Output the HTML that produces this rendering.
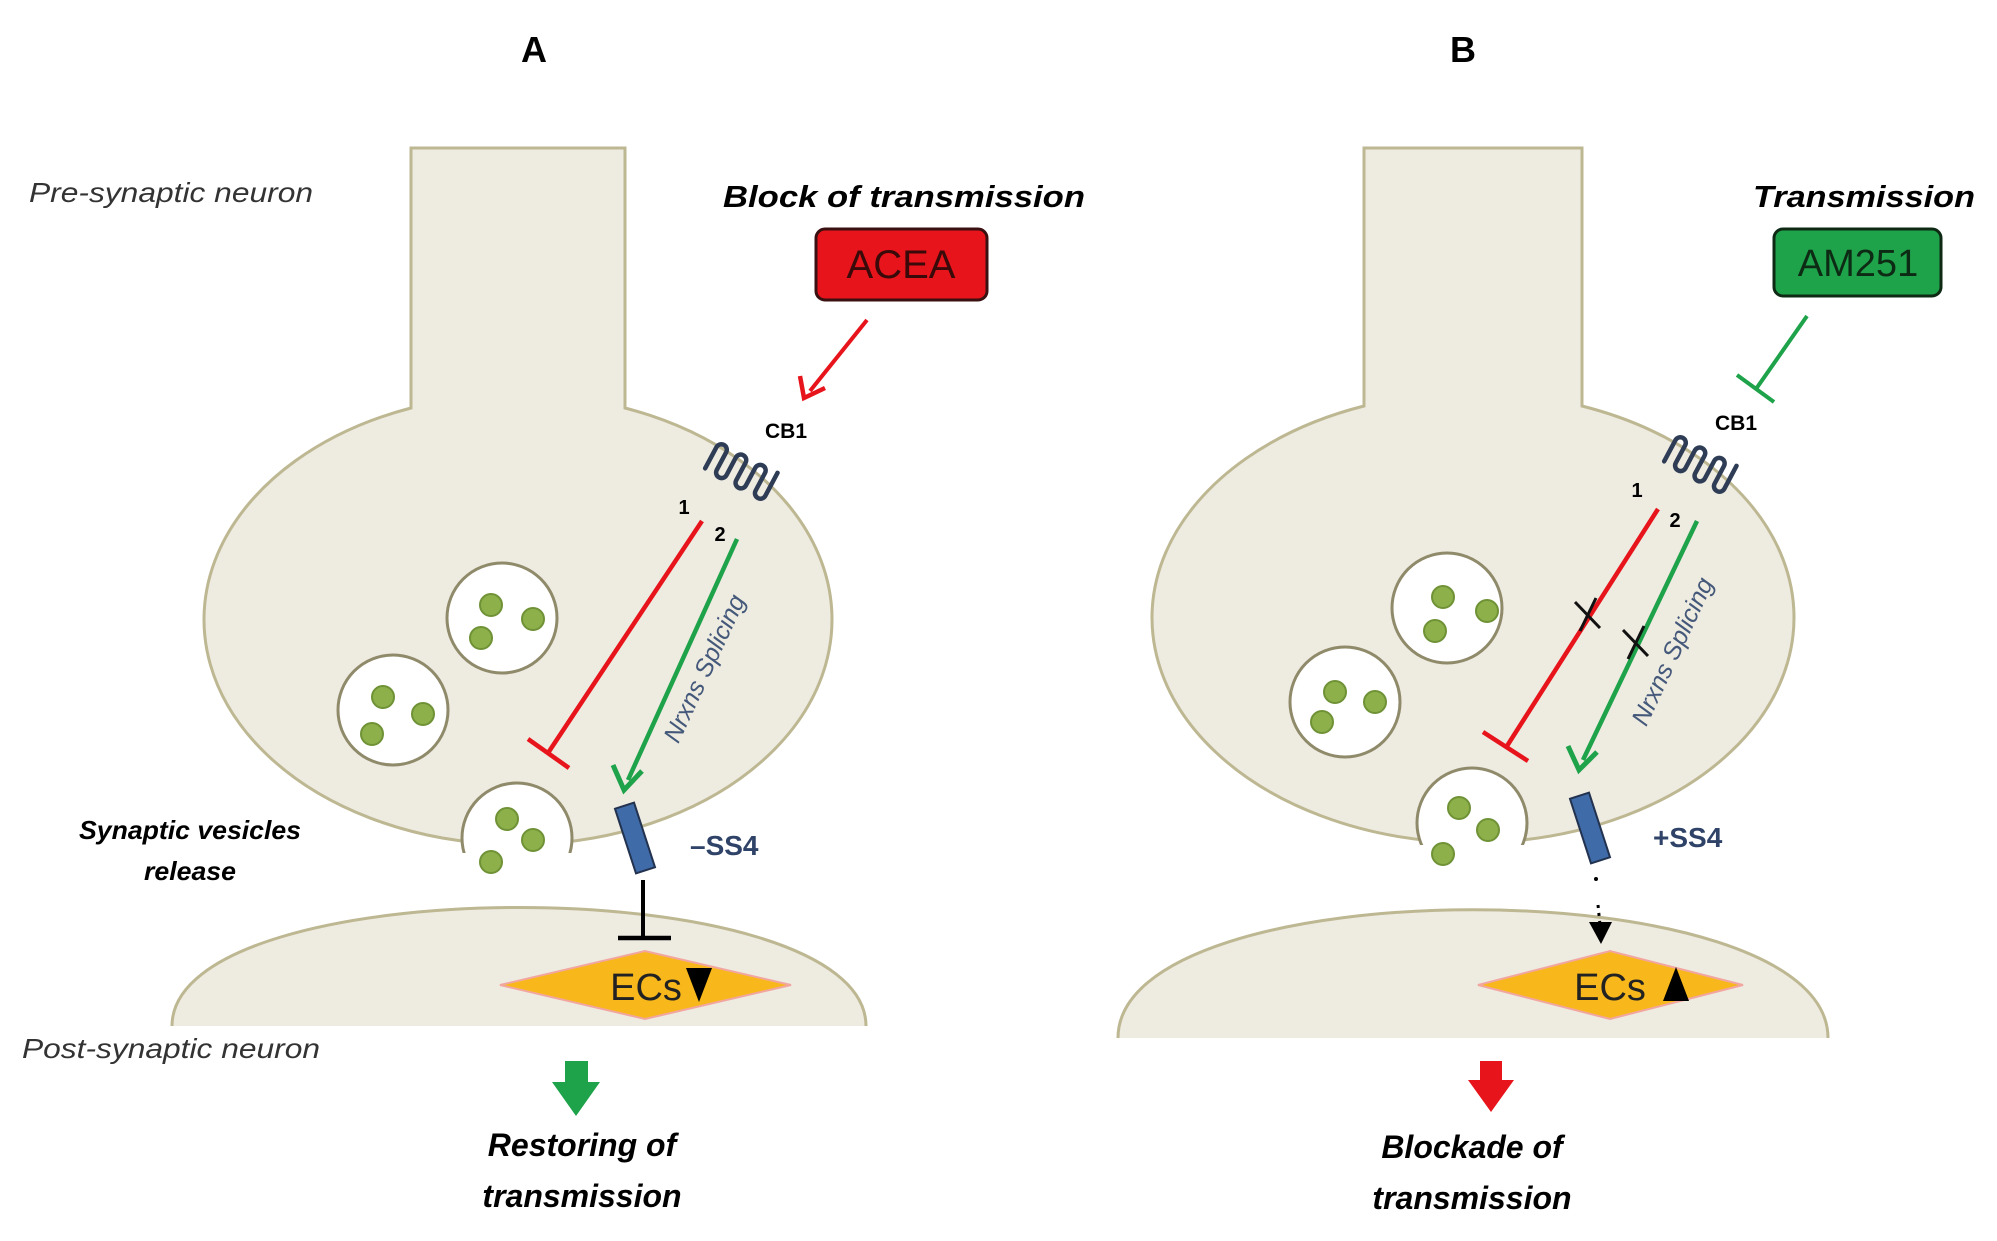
<!DOCTYPE html>
<html><head><meta charset="utf-8"><style>
html,body{margin:0;padding:0;background:#fff;}
svg{display:block;font-family:"Liberation Sans",sans-serif;}
</style></head><body>
<svg width="1997" height="1241" viewBox="0 0 1997 1241" xmlns="http://www.w3.org/2000/svg">
<defs>
<symbol id="cb1" overflow="visible">
<path d="M-32,14 V-10 A5.5,5.5 0 0 1 -21,-10 V10 A5.5,5.5 0 0 0 -10,10 V-10 A5.5,5.5 0 0 1 1,-10 V10 A5.5,5.5 0 0 0 12,10 V-10 A5.5,5.5 0 0 1 23,-10 V10 A5.5,5.5 0 0 0 34,10 V-16" fill="none" stroke="#2e3d55" stroke-width="4.5" stroke-linecap="round"/>
</symbol>
</defs>

<!-- ===== Panel A ===== -->
<text x="534" y="62" font-size="36" font-weight="bold" text-anchor="middle">A</text>
<path d="M411,148 H625 V408 A314,225 0 1 1 411,408 Z" fill="#eeebe1" stroke="#bdb792" stroke-width="3"/>
<path d="M172,1026 C172,868 866,868 866,1026 Z" fill="#eeebe1"/>
<path d="M172,1026 C172,868 866,868 866,1026" fill="none" stroke="#bdb792" stroke-width="3"/>
<circle cx="502" cy="618" r="55" fill="#fff" stroke="#8f8a6a" stroke-width="3"/>
<circle cx="393" cy="710" r="55" fill="#fff" stroke="#8f8a6a" stroke-width="3"/>
<g fill="#8db04a" stroke="#6f9236" stroke-width="2">
<circle cx="491" cy="605" r="11"/><circle cx="533" cy="619" r="11"/><circle cx="481" cy="638" r="11"/>
<circle cx="383" cy="697" r="11"/><circle cx="423" cy="714" r="11"/><circle cx="372" cy="734" r="11"/>
</g>
<circle cx="517" cy="838" r="55" fill="#fff" stroke="#8f8a6a" stroke-width="3"/>
<rect x="455" y="853" width="125" height="50" fill="#fff"/>
<g fill="#8db04a" stroke="#6f9236" stroke-width="2">
<circle cx="507" cy="819" r="11"/><circle cx="533" cy="840" r="11"/><circle cx="491" cy="862" r="11"/>
</g>
<polygon points="500,985 645,951 791,985 645,1019" fill="#f8b81c" stroke="#f2a6a0" stroke-width="2"/>
<text x="646" y="1000" font-size="38" text-anchor="middle" fill="#222">ECs</text>
<polygon points="686,968 712,968 699,1002" fill="#000"/>
<use href="#cb1" transform="translate(740,471) rotate(28)"/>
<text x="786" y="438" font-size="21" font-weight="bold" text-anchor="middle">CB1</text>
<text x="684" y="514" font-size="20" font-weight="bold" text-anchor="middle">1</text>
<text x="720" y="541" font-size="20" font-weight="bold" text-anchor="middle">2</text>
<line x1="702" y1="521" x2="548" y2="753" stroke="#e8141b" stroke-width="4.5"/>
<line x1="528" y1="739" x2="569" y2="768" stroke="#e8141b" stroke-width="4.5"/>
<line x1="737" y1="539" x2="628" y2="780" stroke="#1ea24a" stroke-width="4.5"/>
<path d="M613,765 L624,790 L642,771" fill="none" stroke="#1ea24a" stroke-width="5"/>
<text transform="translate(712,672) rotate(-65)" font-size="25" text-anchor="middle" fill="#44587a" font-style="italic">Nrxns Splicing</text>
<rect x="625" y="804" width="20" height="68" fill="#3f6ba8" stroke="#22324f" stroke-width="2" transform="rotate(-18 635 838)"/>
<text x="690" y="855" font-size="28" font-weight="bold" fill="#2f4368">–SS4</text>
<line x1="643" y1="880" x2="643" y2="938" stroke="#000" stroke-width="4"/>
<line x1="618" y1="938" x2="671" y2="938" stroke="#000" stroke-width="4.5"/>
<text x="904" y="207" font-size="31" font-weight="bold" font-style="italic" text-anchor="middle" textLength="362" lengthAdjust="spacingAndGlyphs">Block of transmission</text>
<rect x="816" y="229" width="171" height="71" rx="9" fill="#e8141b" stroke="#3a1010" stroke-width="3"/>
<text x="901" y="278" font-size="40" text-anchor="middle" fill="#3a0a0a">ACEA</text>
<line x1="867" y1="320" x2="810" y2="391" stroke="#e8141b" stroke-width="4"/>
<path d="M800,376 L804,398 L825,388" fill="none" stroke="#e8141b" stroke-width="4.5"/>
<text x="29" y="202" font-size="28" font-style="italic" fill="#333" textLength="284" lengthAdjust="spacingAndGlyphs">Pre-synaptic neuron</text>
<text x="190" y="839" font-size="26" font-weight="bold" font-style="italic" text-anchor="middle" textLength="222" lengthAdjust="spacingAndGlyphs">Synaptic vesicles</text>
<text x="190" y="880" font-size="26" font-weight="bold" font-style="italic" text-anchor="middle" textLength="92" lengthAdjust="spacingAndGlyphs">release</text>
<text x="22" y="1058" font-size="28" font-style="italic" fill="#333" textLength="298" lengthAdjust="spacingAndGlyphs">Post-synaptic neuron</text>
<polygon points="565,1061 588,1061 588,1082 600,1082 576,1116 552,1082 565,1082" fill="#1ea24a"/>
<text x="582" y="1156" font-size="32" font-weight="bold" font-style="italic" text-anchor="middle">Restoring of</text>
<text x="582" y="1207" font-size="32" font-weight="bold" font-style="italic" text-anchor="middle">transmission</text>

<!-- ===== Panel B ===== -->
<text x="1463" y="62" font-size="36" font-weight="bold" text-anchor="middle">B</text>
<path d="M1364,148 H1582 V406 A321,225 0 1 1 1364,406 Z" fill="#eeebe1" stroke="#bdb792" stroke-width="3"/>
<path d="M1118,1038 C1118,867 1828,867 1828,1038 Z" fill="#eeebe1"/>
<path d="M1118,1038 C1118,867 1828,867 1828,1038" fill="none" stroke="#bdb792" stroke-width="3"/>
<circle cx="1447" cy="608" r="55" fill="#fff" stroke="#8f8a6a" stroke-width="3"/>
<circle cx="1345" cy="702" r="55" fill="#fff" stroke="#8f8a6a" stroke-width="3"/>
<g fill="#8db04a" stroke="#6f9236" stroke-width="2">
<circle cx="1443" cy="597" r="11"/><circle cx="1487" cy="611" r="11"/><circle cx="1435" cy="631" r="11"/>
<circle cx="1335" cy="692" r="11"/><circle cx="1375" cy="702" r="11"/><circle cx="1322" cy="722" r="11"/>
</g>
<circle cx="1472" cy="823" r="55" fill="#fff" stroke="#8f8a6a" stroke-width="3"/>
<rect x="1410" y="845" width="125" height="50" fill="#fff"/>
<g fill="#8db04a" stroke="#6f9236" stroke-width="2">
<circle cx="1459" cy="808" r="11"/><circle cx="1488" cy="830" r="11"/><circle cx="1443" cy="854" r="11"/>
</g>
<polygon points="1478,985 1610,951 1743,985 1610,1019" fill="#f8b81c" stroke="#f2a6a0" stroke-width="2"/>
<text x="1610" y="1000" font-size="38" text-anchor="middle" fill="#222">ECs</text>
<polygon points="1663,1001 1689,1001 1676,967" fill="#000"/>
<use href="#cb1" transform="translate(1699,464) rotate(28)"/>
<text x="1736" y="430" font-size="21" font-weight="bold" text-anchor="middle">CB1</text>
<text x="1637" y="497" font-size="20" font-weight="bold" text-anchor="middle">1</text>
<text x="1675" y="527" font-size="20" font-weight="bold" text-anchor="middle">2</text>
<line x1="1658" y1="509" x2="1507" y2="746" stroke="#e8141b" stroke-width="4.5"/>
<line x1="1483" y1="732" x2="1528" y2="761" stroke="#e8141b" stroke-width="4.5"/>
<line x1="1697" y1="521" x2="1583" y2="760" stroke="#1ea24a" stroke-width="4.5"/>
<path d="M1568,746 L1579,770 L1597,752" fill="none" stroke="#1ea24a" stroke-width="5"/>
<g stroke="#111" stroke-width="3">
<line x1="1575" y1="602" x2="1600" y2="628"/><line x1="1580" y1="631" x2="1596" y2="598"/>
<line x1="1623" y1="630" x2="1648" y2="656"/><line x1="1628" y1="659" x2="1644" y2="626"/>
</g>
<text transform="translate(1680,655) rotate(-65)" font-size="25" text-anchor="middle" fill="#44587a" font-style="italic">Nrxns Splicing</text>
<rect x="1580" y="794" width="20" height="68" fill="#3f6ba8" stroke="#22324f" stroke-width="2" transform="rotate(-18 1590 828)"/>
<text x="1653" y="847" font-size="28" font-weight="bold" fill="#2f4368">+SS4</text>
<circle cx="1596" cy="879" r="2" fill="#000"/>
<line x1="1598" y1="905" x2="1600" y2="925" stroke="#000" stroke-width="3" stroke-dasharray="3,5"/>
<polygon points="1589,922 1612,922 1601,944" fill="#000"/>
<text x="1864" y="207" font-size="31" font-weight="bold" font-style="italic" text-anchor="middle" textLength="222" lengthAdjust="spacingAndGlyphs">Transmission</text>
<rect x="1774" y="229" width="167" height="67" rx="9" fill="#1ea24a" stroke="#0e2a14" stroke-width="3"/>
<text x="1858" y="276" font-size="38" text-anchor="middle" fill="#0d2a14">AM251</text>
<line x1="1807" y1="316" x2="1756" y2="389" stroke="#1ea24a" stroke-width="4"/>
<line x1="1737" y1="375" x2="1774" y2="402" stroke="#1ea24a" stroke-width="4"/>
<polygon points="1480,1061 1502,1061 1502,1080 1514,1080 1491,1112 1468,1080 1480,1080" fill="#e8141b"/>
<text x="1472" y="1158" font-size="32" font-weight="bold" font-style="italic" text-anchor="middle">Blockade of</text>
<text x="1472" y="1209" font-size="32" font-weight="bold" font-style="italic" text-anchor="middle">transmission</text>
</svg>
</body></html>
